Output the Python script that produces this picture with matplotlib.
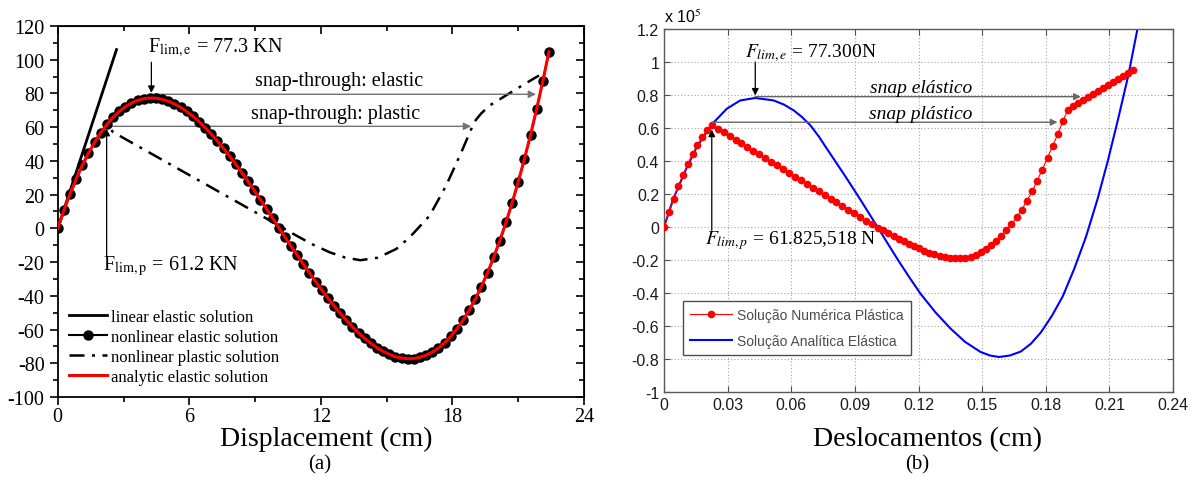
import matplotlib
matplotlib.use('Agg')
import matplotlib.pyplot as plt
from matplotlib.ticker import MultipleLocator

plt.rcParams['font.family'] = ['Liberation Serif', 'DejaVu Serif']
plt.rcParams['mathtext.fontset'] = 'stix'
plt.rcParams['axes.unicode_minus'] = False

######## (a) load vs displacement, cm / KN ########
lin_x = [0.0, 2.68]
lin_f = [0.0, 106.0]

elas_x = [0.0, 0.28, 0.56, 0.84, 1.12, 1.4, 1.68, 1.96, 2.24, 2.52, 2.8, 3.08, 3.36, 3.64, 3.92,
          4.2, 4.48, 4.76, 5.04, 5.32, 5.6, 5.88, 6.16, 6.44, 6.72, 7.0, 7.28, 7.56, 7.84, 8.12,
          8.4, 8.68, 8.96, 9.24, 9.52, 9.8, 10.08, 10.36, 10.64, 10.92, 11.2, 11.48, 11.76, 12.04,
          12.32, 12.6, 12.88, 13.16, 13.44, 13.72, 14.0, 14.28, 14.56, 14.84, 15.12, 15.4, 15.68,
          15.96, 16.24, 16.52, 16.8, 17.08, 17.36, 17.64, 17.92, 18.2, 18.48, 18.76, 19.04, 19.32,
          19.6, 19.88, 20.16, 20.44, 20.72, 21.0, 21.28, 21.56, 21.84, 22.12, 22.4]
elas_f = [0.0, 10.7, 20.4, 29.3, 37.4, 44.6, 51.0, 56.7, 61.6, 65.8, 69.3, 72.1, 74.3, 75.9, 76.9,
          77.3, 77.2, 76.5, 75.4, 73.8, 71.8, 69.3, 66.5, 63.3, 59.8, 55.9, 51.8, 47.4, 42.8, 38.0,
          33.0, 27.8, 22.5, 17.1, 11.6, 6.0, 0.4, -5.1, -10.5, -15.9, -21.2, -26.5, -31.6, -36.5,
          -41.4, -46.0, -50.4, -54.5, -58.4, -62.0, -65.3, -68.2, -70.8, -73.0, -74.7, -76.1, -76.9,
          -77.3, -77.2, -76.5, -75.2, -73.4, -71.0, -67.9, -64.1, -59.7, -54.5, -48.6, -42.0, -34.5,
          -26.3, -17.2, -7.3, 3.5, 15.1, 27.6, 41.0, 55.4, 70.8, 87.2, 104.7]

plas_x = [0.0, 0.56, 1.12, 1.68, 2.24, 2.53, 9.29, 10.88, 11.6, 12.4, 13.1, 13.8, 14.6, 15.44,
          16.05, 16.96, 17.71, 18.4, 19.0, 19.3, 19.69, 20.29, 21.05, 21.81, 21.95]
plas_f = [0.0, 20.4, 37.4, 51.0, 61.2, 57.0, 7.5, -4.3, -9.4, -14.2, -17.3, -18.9, -17.4, -12.2,
          -5.3, 7.5, 25.3, 45.0, 63.2, 68.0, 72.8, 77.6, 83.7, 89.6, 90.6]

######## (b) load (x 10^5 N) vs displacement ########
ana_x = [0.0, 0.0044, 0.0101, 0.0154, 0.0225, 0.0296, 0.0359, 0.043, 0.0517, 0.0565, 0.0611,
         0.065, 0.069, 0.073, 0.0769, 0.0808, 0.0847, 0.0886, 0.0926, 0.0965, 0.1005, 0.1055,
         0.1105, 0.1157, 0.1209, 0.128, 0.1351, 0.142, 0.1493, 0.1537, 0.158, 0.163, 0.1682,
         0.173, 0.1776, 0.1828, 0.188, 0.1935, 0.1989, 0.2044, 0.2091, 0.214, 0.219, 0.2235]
ana_f = [0.0, 0.172, 0.343, 0.485, 0.622, 0.717, 0.767, 0.782, 0.767, 0.742, 0.707,
         0.667, 0.616, 0.548, 0.472, 0.397, 0.322, 0.245, 0.165, 0.085, 0.003, -0.101,
         -0.204, -0.306, -0.404, -0.518, -0.616, -0.697, -0.758, -0.779, -0.788, -0.779, -0.755,
         -0.707, -0.64, -0.54, -0.42, -0.25, -0.061, 0.17, 0.394, 0.65, 0.925, 1.22]

num_x = [0.0, 0.00225, 0.0045, 0.00675, 0.009, 0.01125, 0.0135, 0.01575, 0.018, 0.02025, 0.0225,
         0.0253, 0.0281, 0.0309, 0.0337, 0.0365, 0.0393, 0.0421, 0.0449, 0.0477, 0.0505, 0.0533,
         0.0561, 0.0589, 0.0617, 0.0645, 0.0673, 0.0701, 0.0729, 0.0757, 0.0785, 0.0813, 0.0841,
         0.0869, 0.0897, 0.0925, 0.0953, 0.0981, 0.1009,
         0.1033, 0.1057, 0.1082, 0.1106, 0.113, 0.1154, 0.1178, 0.1203, 0.1227, 0.1251, 0.1275,
         0.1299, 0.1324, 0.1348, 0.1372, 0.1396, 0.142, 0.1445, 0.1469, 0.1493, 0.1517, 0.1541,
         0.1566, 0.159, 0.1614, 0.1638, 0.1662, 0.1687, 0.1711, 0.1735, 0.1759, 0.1783, 0.1808,
         0.1832, 0.1856, 0.188, 0.1904,
         0.1927, 0.1951, 0.1974, 0.1998, 0.2021, 0.2045, 0.2068, 0.2092, 0.2115, 0.2139, 0.2162,
         0.2186, 0.2209]
num_f = [0.0, 0.088, 0.17, 0.246, 0.317, 0.382, 0.441, 0.495, 0.544, 0.585, 0.618,
         0.596, 0.574, 0.551, 0.529, 0.507, 0.484, 0.462, 0.44, 0.417, 0.395, 0.373,
         0.35, 0.328, 0.306, 0.283, 0.261, 0.239, 0.217, 0.194, 0.172, 0.15, 0.127,
         0.105, 0.083, 0.06, 0.038, 0.017, -0.004,
         -0.021, -0.037, -0.054, -0.07, -0.086, -0.101, -0.116, -0.13, -0.143, -0.155, -0.166,
         -0.175, -0.182, -0.187, -0.19, -0.19, -0.188, -0.181, -0.169, -0.153, -0.134, -0.111,
         -0.084, -0.054, -0.02, 0.017, 0.058, 0.106, 0.158, 0.216, 0.28, 0.347, 0.42,
         0.491, 0.561, 0.64, 0.712,
         0.731, 0.749, 0.767, 0.786, 0.804, 0.822, 0.84, 0.859, 0.877, 0.895, 0.913,
         0.932, 0.95]

xt_b = [0, 0.03, 0.06, 0.09, 0.12, 0.15, 0.18, 0.21, 0.24]
xt_b_lab = ['0', '0.03', '0.06', '0.09', '0.12', '0.15', '0.18', '0.21', '0.24']
yt_b = [-1, -0.8, -0.6, -0.4, -0.2, 0, 0.2, 0.4, 0.6, 0.8, 1, 1.2]
yt_b_lab = ['-1', '-0.8', '-0.6', '-0.4', '-0.2', '0', '0.2', '0.4', '0.6', '0.8', '1', '1.2']

fig = plt.figure(figsize=(11.98, 4.81), dpi=100)

############### (a) ###############
ax1 = fig.add_axes([0.0482, 0.1726, 0.4393, 0.7713])
ax1.plot(lin_x, lin_f, color='k', lw=2, zorder=3, label='linear elastic solution')
ax1.plot(elas_x, elas_f, color='k', lw=1.5, marker='o', ms=6.5, zorder=4,
         label='nonlinear elastic solution')
ax1.plot(plas_x, plas_f, color='k', lw=1.8, ls=(0, (6, 3, 1.2, 3)), zorder=2,
         label='nonlinear plastic solution')
ax1.plot(elas_x, elas_f, color='red', lw=2.2, zorder=5, label='analytic elastic solution')

ax1.set_xlim(0, 24)
ax1.set_ylim(-100, 120)
ax1.xaxis.set_major_locator(MultipleLocator(6))
ax1.xaxis.set_minor_locator(MultipleLocator(3))
ax1.yaxis.set_major_locator(MultipleLocator(20))
ax1.yaxis.set_minor_locator(MultipleLocator(10))
ax1.tick_params(which='both', direction='out', labelsize=14.5, width=1.2)
ax1.tick_params(which='major', length=6)
ax1.tick_params(which='minor', length=3.5)
ax1.tick_params(axis='x', which='major', pad=1.0)
for s in ax1.spines.values():
    s.set_linewidth(1.3)
top = ax1.secondary_xaxis('top')
top.xaxis.set_major_locator(MultipleLocator(6))
top.xaxis.set_minor_locator(MultipleLocator(3))
top.tick_params(which='both', direction='in', labeltop=False, width=1.2)
top.tick_params(which='major', length=6)
top.tick_params(which='minor', length=3.5)
right = ax1.secondary_yaxis('right')
right.yaxis.set_major_locator(MultipleLocator(20))
right.yaxis.set_minor_locator(MultipleLocator(10))
right.tick_params(which='both', direction='in', labelright=False, width=1.2)
right.tick_params(which='major', length=6)
right.tick_params(which='minor', length=3.5)

snap = dict(arrowstyle='-|>', color='0.45', lw=1.0, mutation_scale=11, shrinkA=0, shrinkB=0)
ax1.annotate('', xy=(21.81, 79.5), xytext=(4.27, 79.5), arrowprops=snap)
ax1.annotate('', xy=(18.85, 60.5), xytext=(2.3, 60.5), arrowprops=snap)
pin = dict(arrowstyle='-|>', color='k', lw=0.9, mutation_scale=10, shrinkA=0, shrinkB=0)
ax1.annotate('', xy=(4.27, 80.3), xytext=(4.27, 98.5), arrowprops=pin)
ax1.annotate('', xy=(2.23, 59.0), xytext=(2.23, -17.0), arrowprops=pin)

ax1.text(4.1, 107.6, r'F$_{\mathrm{lim,e}}$ = 77.3 KN', fontsize=14.5, va='center')
ax1.text(2.06, -21.7, r'F$_{\mathrm{lim,p}}$ = 61.2 KN', fontsize=14.5, va='center')
ax1.text(9.0, 87.6, 'snap-through: elastic', fontsize=14.5, va='center')
ax1.text(8.83, 68.3, 'snap-through: plastic', fontsize=14.5, va='center')

ax1.legend(loc='upper left', bbox_to_anchor=(0.0215, 0.238), borderaxespad=0, borderpad=0,
           frameon=False, fontsize=12, handlelength=2.3, handletextpad=0.2, labelspacing=0.25)

############### (b) ###############
ax2 = fig.add_axes([0.5543, 0.1830, 0.4249, 0.7546])
ax2.plot(num_x, num_f, color='red', lw=0.8, marker='o', ms=4.5, zorder=3,
         label='Solução Numérica Plástica')
ax2.plot(ana_x, ana_f, color='blue', lw=1.5, zorder=2, label='Solução Analítica Elástica')

ax2.set_xlim(0, 0.24)
ax2.set_ylim(-1, 1.2)
ax2.set_xticks(xt_b)
ax2.set_xticklabels(xt_b_lab)
ax2.set_yticks(yt_b)
ax2.set_yticklabels(yt_b_lab)
for lab in ax2.get_xticklabels() + ax2.get_yticklabels():
    lab.set_family('Liberation Sans')
ax2.tick_params(direction='in', top=True, right=True, labelsize=11.5, length=4,
                color='0.3', labelcolor='0.1')
ax2.grid(True, color='0.65', lw=0.8, ls=(0, (1, 2)))
for s in ax2.spines.values():
    s.set_color('0.35')
    s.set_linewidth(1.0)
ax2.text(0.0, 1.01, r'x 10$^5$', transform=ax2.transAxes, fontsize=11.5,
         family='Liberation Sans', va='bottom')

snap2 = dict(arrowstyle='-|>', color='0.4', lw=1.0, mutation_scale=10, shrinkA=0, shrinkB=0)
ax2.annotate('', xy=(0.1965, 0.79), xytext=(0.043, 0.79), arrowprops=snap2)
ax2.annotate('', xy=(0.1855, 0.635), xytext=(0.0225, 0.635), arrowprops=snap2)
ax2.annotate('', xy=(0.043, 0.797), xytext=(0.043, 1.0), arrowprops=pin)
ax2.annotate('', xy=(0.0225, 0.59), xytext=(0.0225, -0.02), arrowprops=pin)

ax2.text(0.0383, 1.06, r'$F_{lim,e}$ = 77.300N', fontsize=14, va='center')
ax2.text(0.0194, -0.077, r'$F_{lim,p}$ = 61.825,518 N', fontsize=14, va='center')
ax2.text(0.121, 0.845, 'snap elástico', fontsize=14, style='italic', ha='center', va='center')
ax2.text(0.121, 0.687, 'snap plástico', fontsize=14, style='italic', ha='center', va='center')

leg2 = ax2.legend(loc='upper left', bbox_to_anchor=(0.0373, 0.2515), borderaxespad=0,
                  prop={'family': 'Liberation Sans', 'size': 10}, fancybox=False,
                  edgecolor='0.3', framealpha=1, handlelength=3.0, borderpad=0.5,
                  labelspacing=0.9, handletextpad=0.4)
leg2.get_frame().set_linewidth(1.0)
for t in leg2.get_texts():
    t.set_color('0.3')

fig.text(0.272, 1 - 446 / 481, 'Displacement (cm)', ha='center', va='baseline', fontsize=20)
fig.text(0.267, 1 - 465 / 481, '(a)', ha='center', va='center', fontsize=15)
fig.text(0.774, 1 - 446 / 481, 'Deslocamentos (cm)', ha='center', va='baseline', fontsize=20)
fig.text(0.766, 1 - 465 / 481, '(b)', ha='center', va='center', fontsize=15)

fig.savefig('out.png', dpi=100)
